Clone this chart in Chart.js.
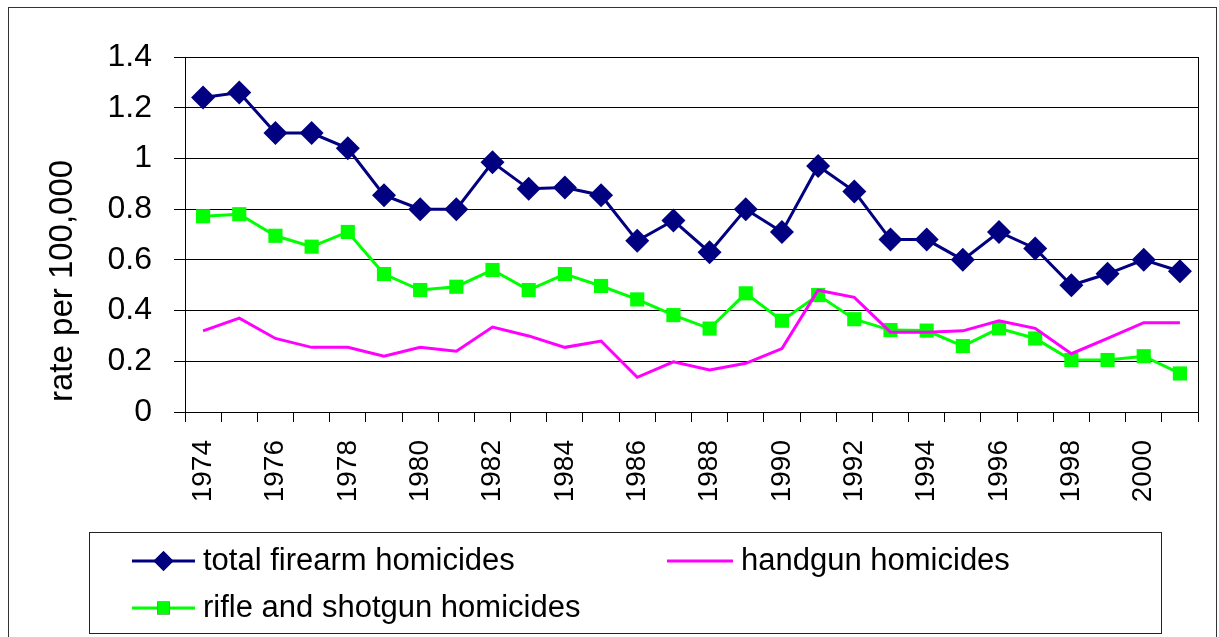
<!DOCTYPE html>
<html>
<head>
<meta charset="utf-8">
<script src="https://cdn.jsdelivr.net/npm/chart.js@4.4.1/dist/chart.umd.min.js"></script>
<style>
  body { margin: 0; background: #fff; }
  canvas { display: block; }
</style>
</head>
<body>
<canvas id="homChart" width="1219" height="637"></canvas>
<script>
const years = ['1974','1975','1976','1977','1978','1979','1980','1981','1982','1983',
               '1984','1985','1986','1987','1988','1989','1990','1991','1992','1993',
               '1994','1995','1996','1997','1998','1999','2000','2001'];

const totalFirearm = [1.24, 1.26, 1.10, 1.10, 1.04, 0.855, 0.80, 0.80, 0.985, 0.88,
                      0.885, 0.855, 0.675, 0.755, 0.63, 0.80, 0.71, 0.97, 0.87, 0.68,
                      0.68, 0.60, 0.71, 0.645, 0.50, 0.545, 0.60, 0.555];

const handgun = [0.32, 0.37, 0.29, 0.255, 0.255, 0.22, 0.255, 0.24, 0.335, 0.30,
                 0.255, 0.28, 0.137, 0.198, 0.166, 0.192, 0.25, 0.48, 0.452, 0.315,
                 0.315, 0.32, 0.36, 0.33, 0.23, 0.29, 0.352, 0.352];

const rifleShotgun = [0.772, 0.78, 0.695, 0.652, 0.71, 0.544, 0.481, 0.494, 0.56, 0.481,
                      0.544, 0.497, 0.444, 0.382, 0.329, 0.468, 0.36, 0.461, 0.366, 0.323,
                      0.321, 0.26, 0.33, 0.29, 0.205, 0.205, 0.22, 0.152];

const seriesNames = ['total firearm homicides', 'handgun homicides', 'rifle and shotgun homicides'];
const yTitle = 'rate per 100,000';

const FONT = "'Liberation Sans', Arial, sans-serif";

// outer frame, y title and right edge of the plot area
const frame = {
    id: 'frame',
    beforeDraw(chart) {
        const ctx = chart.ctx;
        ctx.save();
        ctx.fillStyle = '#fff';
        ctx.fillRect(0, 0, chart.width, chart.height);
        ctx.strokeStyle = '#333';
        ctx.lineWidth = 1;
        ctx.strokeRect(8.5, 7.5, 1208, 700);

        ctx.translate(63, 402);
        ctx.rotate(-Math.PI / 2);
        ctx.fillStyle = '#000';
        ctx.font = '33px ' + FONT;
        ctx.textAlign = 'left';
        ctx.textBaseline = 'middle';
        ctx.fillText(yTitle, 0, 0);
        ctx.restore();
    },
    beforeDatasetsDraw(chart) {
        const a = chart.chartArea;
        const ctx = chart.ctx;
        ctx.save();
        ctx.strokeStyle = '#000';
        ctx.lineWidth = 1;
        ctx.beginPath();
        ctx.moveTo(Math.round(a.right) + 0.5, a.top);
        ctx.lineTo(Math.round(a.right) + 0.5, a.bottom + 10);
        ctx.stroke();
        ctx.restore();
    }
};

// boxed legend with line + marker samples, two columns
const boxLegend = {
    id: 'boxLegend',
    afterDraw(chart) {
        const ctx = chart.ctx;
        const ds = chart.data.datasets;
        const spots = [
            {x: 132, y: 561},
            {x: 667, y: 561},
            {x: 132, y: 608}
        ];
        ctx.save();
        ctx.strokeStyle = '#222';
        ctx.lineWidth = 1;
        ctx.strokeRect(89.5, 532.5, 1072, 101);
        ds.forEach((d, i) => {
            const s = spots[i];
            const len = i === 1 ? 66 : 63;
            ctx.strokeStyle = d.borderColor;
            ctx.lineWidth = 3;
            ctx.beginPath();
            ctx.moveTo(s.x, s.y);
            ctx.lineTo(s.x + len, s.y);
            ctx.stroke();
            if (d.pointRadius > 0) {
                Chart.helpers.drawPoint(ctx, {
                    pointStyle: d.pointStyle,
                    radius: d.pointStyle === 'rectRot' ? 10 : 9,
                    rotation: 0,
                    borderWidth: 0
                }, s.x + len / 2, s.y);
                ctx.fillStyle = d.backgroundColor;
                ctx.fill();
            }
            ctx.fillStyle = '#000';
            ctx.font = '31px ' + FONT;
            ctx.textBaseline = 'middle';
            ctx.textAlign = 'left';
            ctx.fillText(d.label, s.x + len + 8, s.y);
        });
        ctx.restore();
    }
};

const ctx = document.getElementById('homChart').getContext('2d');
const homChart = new Chart(ctx, {
    type: 'line',
    plugins: [frame, boxLegend],
    data: {
        labels: years,
        datasets: [
            {
                label: seriesNames[0],
                data: totalFirearm,
                borderColor: '#000080',
                backgroundColor: '#000080',
                borderWidth: 3,
                pointStyle: 'rectRot',
                pointRadius: 12,
                pointBorderWidth: 0,
                tension: 0
            },
            {
                label: seriesNames[1],
                data: handgun,
                borderColor: '#FF00FF',
                backgroundColor: '#FF00FF',
                borderWidth: 3,
                pointRadius: 0,
                tension: 0
            },
            {
                label: seriesNames[2],
                data: rifleShotgun,
                borderColor: '#00FF00',
                backgroundColor: '#00FF00',
                borderWidth: 3,
                pointStyle: 'rect',
                pointRadius: 10,
                pointBorderWidth: 0,
                tension: 0
            }
        ]
    },
    options: {
        responsive: false,
        animation: false,
        events: [],
        layout: {
            padding: { left: 0, top: 57, right: 21, bottom: 117 }
        },
        plugins: {
            legend: { display: false },
            title: { display: false },
            tooltip: { enabled: false }
        },
        scales: {
            x: {
                offset: true,
                afterFit(scale) {
                    scale.height = 108;
                    scale.paddingLeft = 0;
                    scale.paddingRight = 0;
                },
                grid: {
                    offset: true,
                    drawOnChartArea: false,
                    drawTicks: true,
                    tickLength: 10,
                    color: '#000'
                },
                border: { display: true, color: '#000', width: 1 },
                ticks: {
                    autoSkip: false,
                    minRotation: 90,
                    maxRotation: 90,
                    padding: 18,
                    color: '#000',
                    font: { family: FONT, size: 28 },
                    callback: function (value, index) {
                        return index % 2 === 0 ? years[index] : '';
                    }
                }
            },
            y: {
                min: 0,
                max: 1.4,
                afterFit(scale) {
                    scale.width = 185;
                    scale.paddingTop = 0;
                    scale.paddingBottom = 0;
                },
                grid: {
                    color: '#000',
                    tickLength: 11,
                    drawTicks: true
                },
                border: { display: true, color: '#000', width: 1 },
                ticks: {
                    stepSize: 0.2,
                    padding: 22,
                    color: '#000',
                    font: { family: FONT, size: 32 },
                    callback: function (value) {
                        return String(Math.round(value * 10) / 10);
                    }
                }
            }
        }
    }
});
</script>
</body>
</html>
